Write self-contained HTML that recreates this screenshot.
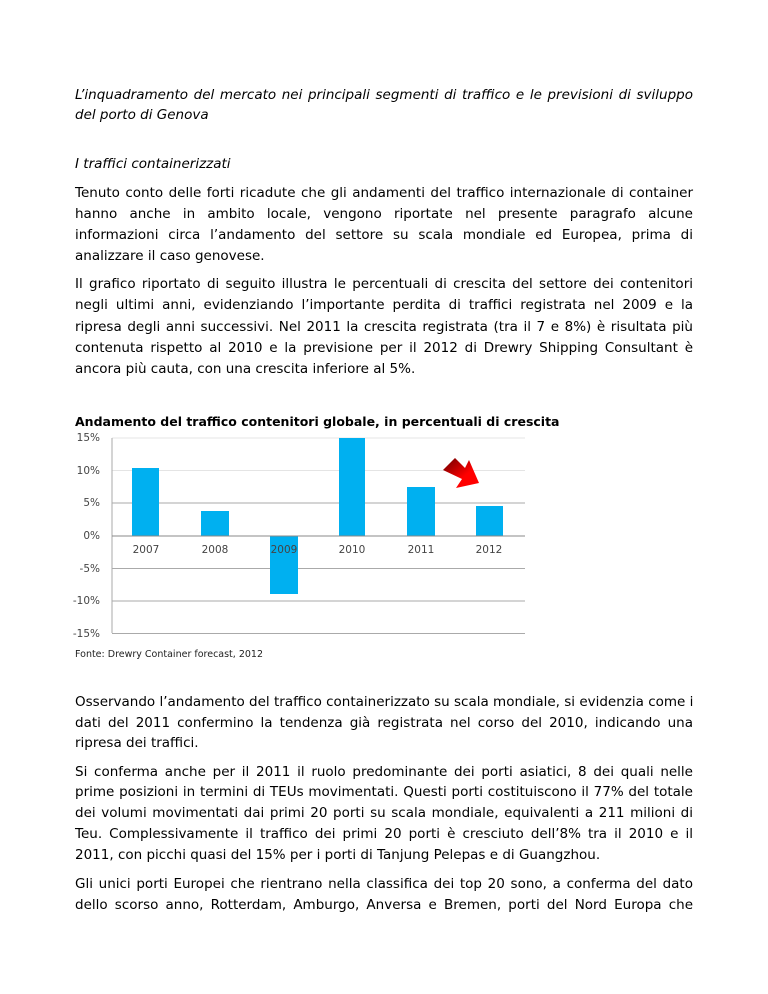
<!DOCTYPE html>
<html><head><meta charset="utf-8"><style>
body{margin:0;width:768px;height:994px;background:#fff;position:relative;font-family:"DejaVu Sans","Liberation Sans",sans-serif;color:#000;overflow:hidden}
.l{position:absolute;left:75px;width:618px;font-size:13.5px;white-space:nowrap;line-height:18px}
.j{text-align:justify;text-align-last:justify}
.i{font-style:italic}
</style></head><body>
<div class="l i j" style="top:86px">L’inquadramento del mercato nei principali segmenti di traffico e le previsioni di sviluppo</div>
<div class="l i" style="top:106px">del porto di Genova</div>
<div class="l i" style="top:155px">I traffici containerizzati</div>
<div class="l j" style="top:184px">Tenuto conto delle forti ricadute che gli andamenti del traffico internazionale di container</div>
<div class="l j" style="top:205px">hanno anche in ambito locale, vengono riportate nel presente paragrafo alcune</div>
<div class="l j" style="top:226px">informazioni circa l’andamento del settore su scala mondiale ed Europea, prima di</div>
<div class="l" style="top:247px">analizzare il caso genovese.</div>
<div class="l j" style="top:275px">Il grafico riportato di seguito illustra le percentuali di crescita del settore dei contenitori</div>
<div class="l j" style="top:296px">negli ultimi anni, evidenziando l’importante perdita di traffici registrata nel 2009 e la</div>
<div class="l j" style="top:318px">ripresa degli anni successivi. Nel 2011 la crescita registrata (tra il 7 e 8%) è risultata più</div>
<div class="l j" style="top:339px">contenuta rispetto al 2010 e la previsione per il 2012 di Drewry Shipping Consultant è</div>
<div class="l" style="top:360px">ancora più cauta, con una crescita inferiore al 5%.</div>
<div style="position:absolute;left:75px;top:414px;font-size:12.5px;font-weight:bold;white-space:nowrap">Andamento del traffico contenitori globale, in percentuali di crescita</div>
<svg style="position:absolute;left:0;top:0" width="768" height="994">
<g font-family="DejaVu Sans,sans-serif" font-size="10.5" fill="#444" text-anchor="end">
<text x="100" y="441">15%</text><text x="100" y="474">10%</text><text x="100" y="506">5%</text><text x="100" y="539">0%</text><text x="100" y="572">-5%</text><text x="100" y="604">-10%</text><text x="100" y="637">-15%</text>
</g>
<g stroke="#e4e4e4" stroke-width="1">
<line x1="112" x2="525" y1="438" y2="438"/><line x1="112" x2="525" y1="470.5" y2="470.5"/>
</g>
<g stroke="#aaa" stroke-width="1">
<line x1="112" x2="525" y1="503" y2="503"/><line x1="112" x2="525" y1="568.5" y2="568.5"/><line x1="112" x2="525" y1="601" y2="601"/>
<line x1="112" x2="525" y1="633.5" y2="633.5"/><line x1="112" x2="112" y1="438" y2="633"/>
</g>
<g fill="#00b0f0">
<rect x="132" y="468" width="27" height="68"/><rect x="201" y="511" width="28" height="25"/><rect x="270" y="536" width="28" height="58"/>
<rect x="339" y="438" width="26" height="98"/><rect x="407" y="487" width="28" height="49"/><rect x="476" y="506" width="27" height="30"/>
</g>
<line x1="112" x2="525" y1="536" y2="536" stroke="#888"/>
<g font-family="DejaVu Sans,sans-serif" font-size="10.5" fill="#444" text-anchor="middle">
<text x="146" y="553">2007</text><text x="215" y="553">2008</text><text x="284" y="553">2009</text><text x="352" y="553">2010</text><text x="421" y="553">2011</text><text x="489" y="553">2012</text>
</g>
<defs><linearGradient id="g" x1="0" y1="0" x2="1" y2="1"><stop offset="0" stop-color="#600"/><stop offset="0.6" stop-color="#f00"/></linearGradient></defs>
<polygon points="443,470 455,458 465,468 469,460 479,483 456,488 462,479" fill="url(#g)"/>
</svg>
<div style="position:absolute;left:75px;top:649px;font-size:9.5px;font-family:'DejaVu Sans',sans-serif;color:#222">Fonte: Drewry Container forecast, 2012</div>
<div class="l j" style="top:693px">Osservando l’andamento del traffico containerizzato su scala mondiale, si evidenzia come i</div>
<div class="l j" style="top:714px">dati del 2011 confermino la tendenza già registrata nel corso del 2010, indicando una</div>
<div class="l" style="top:734px">ripresa dei traffici.</div>
<div class="l j" style="top:763px">Si conferma anche per il 2011 il ruolo predominante dei porti asiatici, 8 dei quali nelle</div>
<div class="l j" style="top:783px">prime posizioni in termini di TEUs movimentati. Questi porti costituiscono il 77% del totale</div>
<div class="l j" style="top:804px">dei volumi movimentati dai primi 20 porti su scala mondiale, equivalenti a 211 milioni di</div>
<div class="l j" style="top:825px">Teu. Complessivamente il traffico dei primi 20 porti è cresciuto dell’8% tra il 2010 e il</div>
<div class="l" style="top:846px">2011, con picchi quasi del 15% per i porti di Tanjung Pelepas e di Guangzhou.</div>
<div class="l j" style="top:875px">Gli unici porti Europei che rientrano nella classifica dei top 20 sono, a conferma del dato</div>
<div class="l j" style="top:896px">dello scorso anno, Rotterdam, Amburgo, Anversa e Bremen, porti del Nord Europa che</div>
</body></html>
